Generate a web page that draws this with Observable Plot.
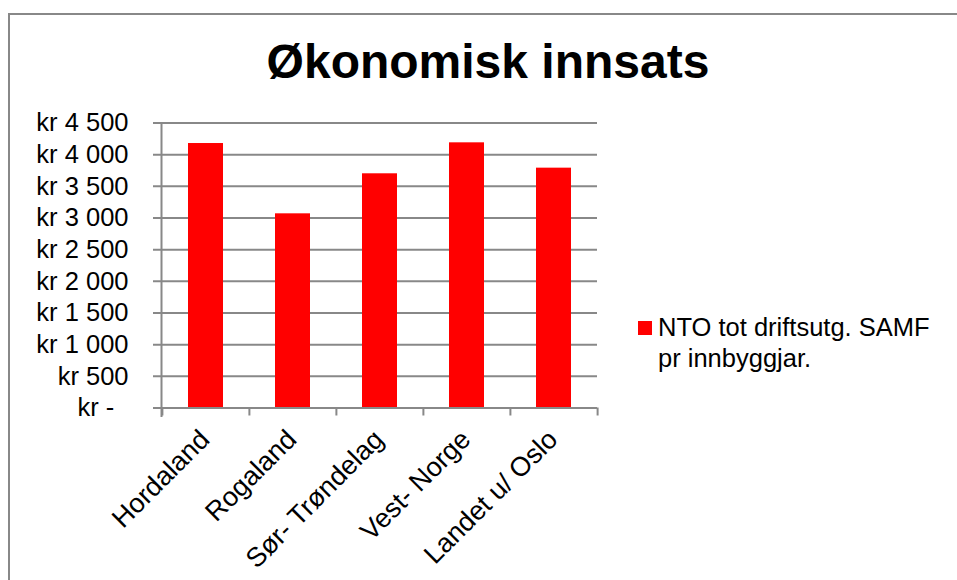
<!DOCTYPE html>
<html>
<head>
<meta charset="utf-8">
<script src="https://cdn.jsdelivr.net/npm/d3@7"></script>
<script src="https://cdn.jsdelivr.net/npm/@observablehq/plot@0.6"></script>
<style>
  html, body { margin: 0; padding: 0; background: #fff; overflow: hidden; }
  body { width: 957px; height: 580px; position: relative; font-family: "Liberation Sans", Arial, sans-serif; }
  #frame { position: absolute; left: 8px; top: 13px; width: 1000px; height: 700px;
           border-left: 2px solid #888; border-top: 2px solid #888; }
  #title { position: absolute; left: 0; width: 976px; top: 34px; text-align: center;
           font-weight: bold; font-size: 48px; line-height: 56px; color: #000; }
  #chart { position: absolute; left: 0; top: 100px; }
  #legend { position: absolute; left: 638px; top: 312px; font-size: 25.5px; line-height: 31px; color: #000; }
  #legend .sw { position: absolute; left: 0; top: 9px; width: 14px; height: 14px; background: #ff0000; }
  #legend .tx { margin-left: 20px; white-space: nowrap; }
</style>
</head>
<body>
<div id="frame"></div>
<div id="title">Økonomisk innsats</div>
<div id="chart"></div>
<div id="legend"><div class="sw"></div><div class="tx">NTO tot driftsutg. SAMF<br>pr innbyggjar.</div></div>
<script>
const categories = ["Hordaland", "Rogaland", "Sør- Trøndelag", "Vest- Norge", "Landet u/ Oslo"];
const values = [4176, 3066, 3698, 4187, 3787];
const yTicks = [0, 500, 1000, 1500, 2000, 2500, 3000, 3500, 4000, 4500];
const seriesName = "NTO tot driftsutg. SAMF pr innbyggjar.";

const data = categories.map((c, i) => ({category: c, value: values[i]}));
const nb = d3.formatLocale({decimal: ",", thousands: "\u00a0", grouping: [3], currency: ["kr ", ""]});
const fmt = nb.format(",d");
const yFormat = d => d === 0 ? "kr -\u00a0\u00a0" : "kr " + fmt(d);

const W = 620, H = 480;
const mL = 161, mR = 23, mT = 22.5, mB = 172.5;
const step = (W - mL - mR) / categories.length;
const grey = "#888888";

const plot = Plot.plot({
  width: W,
  height: H,
  marginLeft: mL,
  marginRight: mR,
  marginTop: mT,
  marginBottom: mB,
  style: {fontFamily: "'Liberation Sans', Arial, sans-serif", fontSize: "25.5px", color: "#000", background: "transparent"},
  x: {domain: categories, paddingInner: 0.6, paddingOuter: 0.3, label: null},
  y: {domain: [0, 4500], label: null},
  marks: [
    Plot.ruleY(yTicks, {y: d => d, stroke: grey, strokeWidth: 2, insetLeft: -8}),
    Plot.frame({anchor: "left", stroke: grey, strokeWidth: 2, insetBottom: -8}),
    Plot.barY(data, {x: "category", y: "value", fill: "#ff0000"}),
    Plot.ruleX(categories, {x: d => d, y1: 0, y2: 0, insetBottom: -8, dx: -step / 2, stroke: grey, strokeWidth: 2}),
    Plot.ruleX(categories.slice(-1), {x: d => d, y1: 0, y2: 0, insetBottom: -8, dx: step / 2, stroke: grey, strokeWidth: 2}),
    Plot.ruleY([0], {y: d => d, stroke: grey, strokeWidth: 2, insetLeft: -8}),
    Plot.axisY({ticks: yTicks, tickFormat: yFormat, tickSize: 0, tickPadding: 33, fontSize: "25.5px"}),
    Plot.axisX({tickSize: 0, tickRotate: -45, tickPadding: 27, dx: -1, fontSize: "27px"})
  ]
});
document.getElementById("chart").appendChild(plot);
</script>
</body>
</html>
